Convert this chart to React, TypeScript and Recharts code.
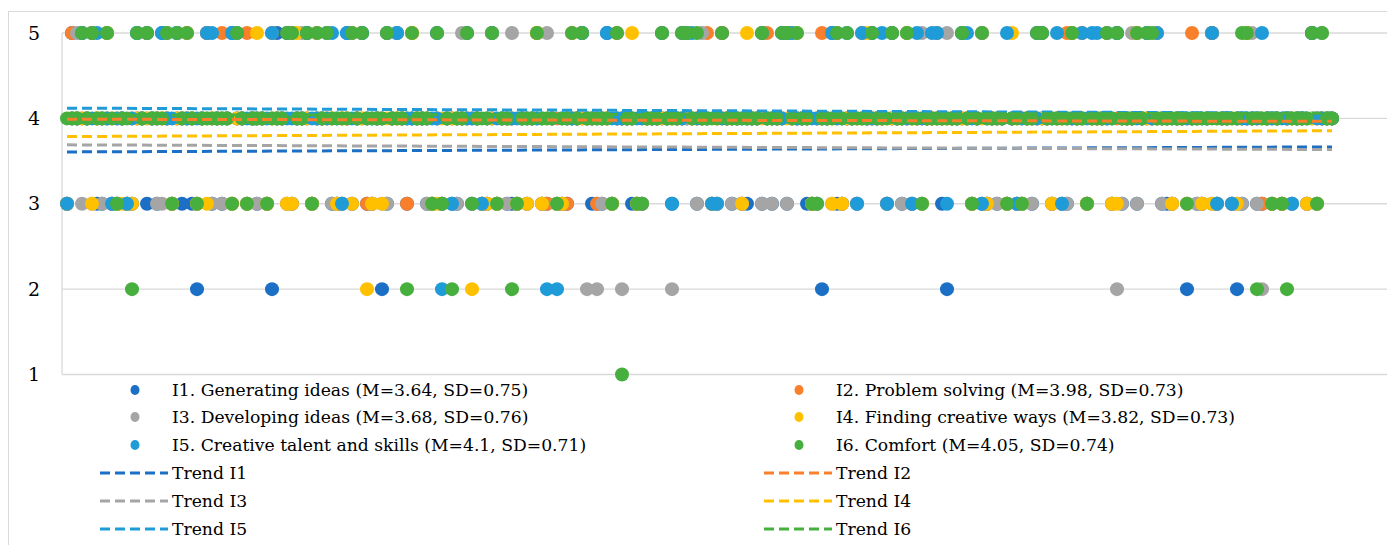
import { CartesianGrid, Scatter, ScatterChart, XAxis, YAxis } from 'recharts';

// respondents are plotted by index 1..N, score on y (1-5). Every score not listed is a 4.
const N = 254;

const labels = [
  'I1. Generating ideas (M=3.64, SD=0.75)',
  'I2. Problem solving (M=3.98, SD=0.73)',
  'I3. Developing ideas (M=3.68, SD=0.76)',
  'I4. Finding creative ways (M=3.82, SD=0.73)',
  'I5. Creative talent and skills (M=4.1, SD=0.71)',
  'I6. Comfort (M=4.05, SD=0.74)',
];
const trendLabels = ['Trend I1', 'Trend I2', 'Trend I3', 'Trend I4', 'Trend I5', 'Trend I6'];
const colors = ['#1B6FC4', '#F97F2B', '#A5A5A5', '#FFC000', '#1F9BD8', '#46AF3D'];

const i1Fives = [2, 4, 6, 9, 15, 20, 23, 29, 34, 43, 45, 49, 53, 57, 60, 67, 75, 81, 95, 104, 109, 124, 132, 144, 154, 162, 169, 180, 195, 202, 211, 217, 230, 250];
const i1Threes = [1, 7, 8, 10, 11, 13, 14, 17, 19, 22, 24, 26, 30, 32, 37, 39, 41, 46, 50, 54, 55, 56, 58, 61, 62, 65, 69, 73, 74, 76, 78, 79, 82, 84, 85, 87, 89, 90, 91, 93, 96, 97, 99, 100, 101, 106, 107, 108, 110, 114, 115, 116, 122, 127, 130, 131, 134, 136, 137, 140, 142, 145, 149, 150, 151, 155, 156, 159, 165, 168, 170, 172, 176, 182, 184, 185, 187, 189, 191, 192, 194, 198, 200, 201, 205, 210, 212, 215, 220, 221, 222, 227, 228, 231, 234, 236, 239, 240, 242, 244, 246, 249, 251];
const i1Twos = [27, 42, 64, 152, 177, 225, 235];

const i2Fives = [2, 6, 17, 25, 29, 32, 37, 42, 46, 51, 58, 65, 70, 86, 95, 102, 111, 120, 125, 129, 132, 140, 141, 145, 152, 155, 160, 166, 175, 184, 196, 201, 204, 209, 215, 219, 226, 230, 237, 250];
const i2Threes = [1, 10, 13, 22, 27, 34, 41, 45, 50, 55, 61, 62, 69, 74, 76, 84, 87, 91, 96, 97, 100, 101, 107, 110, 115, 116, 130, 136, 150, 156, 165, 182, 185, 189, 191, 198, 205, 210, 222, 228, 231, 234, 240, 244, 249];

const i3Fives = [3, 21, 48, 53, 60, 67, 80, 90, 97, 104, 128, 146, 155, 172, 177, 184, 209, 214, 238, 252];
const i3Threes = [1, 4, 6, 8, 10, 11, 13, 14, 19, 20, 22, 27, 30, 32, 34, 37, 39, 41, 45, 46, 50, 54, 55, 56, 58, 62, 64, 65, 73, 74, 76, 79, 82, 84, 85, 87, 89, 91, 93, 96, 99, 100, 108, 110, 115, 116, 127, 130, 131, 134, 136, 140, 142, 145, 150, 151, 154, 156, 159, 165, 168, 170, 182, 185, 187, 189, 191, 192, 194, 198, 200, 201, 205, 210, 212, 215, 220, 222, 225, 227, 228, 230, 231, 234, 235, 236, 239, 242, 244, 246, 249, 251];
const i3Twos = [105, 107, 112, 122, 211, 240];

const i4Fives = [9, 39, 47, 70, 95, 114, 125, 137, 147, 161, 169, 190, 202, 215, 237];
const i4Threes = [1, 6, 11, 12, 13, 14, 22, 27, 29, 34, 37, 41, 45, 46, 50, 55, 58, 62, 64, 74, 75, 84, 85, 87, 91, 93, 96, 99, 100, 110, 115, 130, 136, 150, 154, 156, 172, 182, 185, 189, 192, 198, 205, 210, 211, 222, 225, 228, 230, 235, 242, 244, 249, 251];
const i4Twos = [61, 82];

const i5Fives = [4, 7, 15, 17, 20, 23, 29, 30, 34, 35, 42, 49, 54, 57, 60, 65, 67, 86, 104, 109, 120, 125, 126, 140, 145, 146, 154, 157, 160, 164, 166, 171, 174, 175, 180, 181, 189, 196, 199, 204, 206, 207, 211, 217, 219, 230, 240, 250];
const i5Threes = [1, 10, 13, 56, 78, 84, 122, 130, 131, 159, 165, 170, 177, 184, 191, 200, 231, 234, 246];
const i5Twos = [76, 97, 99];

const i6Fives = [4, 6, 9, 15, 17, 21, 23, 25, 35, 45, 46, 49, 51, 53, 58, 60, 65, 70, 75, 81, 86, 95, 102, 104, 111, 120, 124, 125, 127, 132, 140, 144, 145, 147, 155, 157, 162, 166, 169, 180, 184, 195, 196, 202, 209, 211, 215, 217, 218, 236, 237, 250, 252];
const i6Threes = [11, 22, 27, 34, 37, 41, 50, 74, 76, 82, 87, 91, 99, 110, 115, 116, 150, 151, 172, 182, 189, 192, 205, 225, 242, 244, 251];
const i6Twos = [14, 69, 78, 90, 239, 245];
const i6Ones = [112];

// linear trend values at the first and last respondent
const trendStart = [3.607, 3.99, 3.69, 3.787, 4.12, 4.035];
const trendEnd = [3.666, 3.965, 3.635, 3.855, 4.06, 4.06];

function buildSeries(fives: number[], threes: number[], twos: number[] = [], ones: number[] = []) {
  return Array.from({ length: N }, (_, k) => {
    const x = k + 1;
    let y = 4;
    if (fives.includes(x)) y = 5;
    else if (threes.includes(x)) y = 3;
    else if (twos.includes(x)) y = 2;
    else if (ones.includes(x)) y = 1;
    return { x, y };
  });
}

const series = [
  buildSeries(i1Fives, i1Threes, i1Twos),
  buildSeries(i2Fives, i2Threes),
  buildSeries(i3Fives, i3Threes, i3Twos),
  buildSeries(i4Fives, i4Threes, i4Twos),
  buildSeries(i5Fives, i5Threes, i5Twos),
  buildSeries(i6Fives, i6Threes, i6Twos, i6Ones),
];

const trends = trendStart.map((v, i) => [
  { x: 1, y: v },
  { x: N, y: trendEnd[i] },
]);

const FONT = '"DejaVu Serif", serif';
const DASH = '10 5';

const noDot = () => <g />;

function LegendBlock() {
  const cols = [0, 1];
  return (
    <div style={{ position: 'absolute', left: 0, top: 363.5, width: 1383, height: 175, fontFamily: FONT, fontSize: 17.2, color: '#000' }}>
      {cols.map((c) => {
        const items = [0, 1, 2].map((r) => ({ idx: r * 2 + c, kind: 'dot', row: r }))
          .concat([0, 1, 2].map((r) => ({ idx: r * 2 + c, kind: 'dash', row: r + 3 })));
        const left = c === 0 ? 91 : 755;
        return items.map((it) => (
          <div key={`${c}-${it.kind}-${it.idx}`} style={{ position: 'absolute', left, top: it.row * 27.8, height: 28, display: 'flex', alignItems: 'center', whiteSpace: 'nowrap' }}>
            <svg width={72} height={12} style={{ flex: 'none' }}>
              {it.kind === 'dot' ? (
                <ellipse cx={35} cy={6} rx={4.5} ry={5} fill={colors[it.idx]} />
              ) : (
                <line x1={0} y1={6} x2={68} y2={6} stroke={colors[it.idx]} strokeWidth={3} strokeDasharray={DASH} />
              )}
            </svg>
            <span>{it.kind === 'dot' ? labels[it.idx] : trendLabels[it.idx]}</span>
          </div>
        ));
      })}
    </div>
  );
}

export default function App() {
  return (
    <div style={{ position: 'relative', width: 1385, height: 540, marginTop: 3, border: '1px solid #d9d9d9', boxSizing: 'border-box', background: '#fff' }}>
      <ScatterChart width={1383} height={526} margin={{ top: 21, right: 0, bottom: 163.5, left: 0 }}>
        <CartesianGrid vertical={false} stroke="#d9d9d9" strokeWidth={1.3} />
        <XAxis type="number" dataKey="x" domain={[0, 266]} hide />
        <YAxis
          type="number"
          dataKey="y"
          domain={[1, 5]}
          ticks={[1, 2, 3, 4, 5]}
          width={53}
          axisLine={{ stroke: '#d9d9d9', strokeWidth: 1.3 }}
          tickLine={false}
          tickMargin={16}
          tick={{ fontSize: 19, fill: '#000', fontFamily: FONT }}
        />
        {series.map((data, i) => (
          <Scatter
            key={labels[i]}
            data={data}
            isAnimationActive={false}
            shape={(p: any) => <circle cx={p.cx} cy={p.cy} r={7} fill={colors[i]} />}
          />
        ))}
        {trends.map((data, i) => (
          <Scatter
            key={trendLabels[i]}
            data={data}
            isAnimationActive={false}
            line={{ stroke: colors[i], strokeWidth: 3, strokeDasharray: DASH }}
            lineType="joint"
            shape={noDot}
          />
        ))}
      </ScatterChart>
      <LegendBlock />
    </div>
  );
}
